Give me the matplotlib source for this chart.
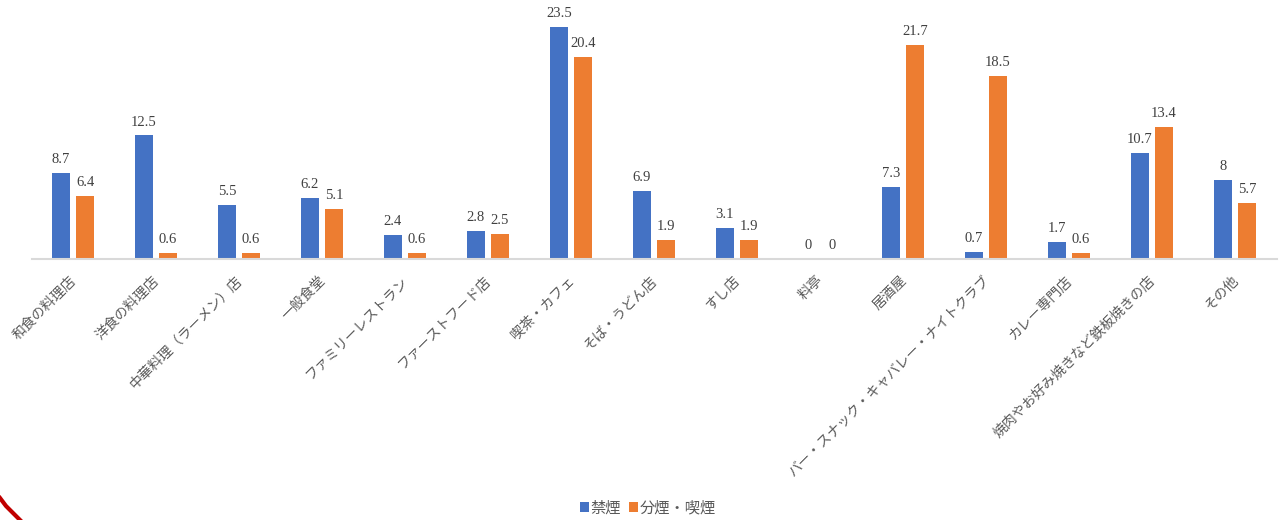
import matplotlib
matplotlib.use("Agg")
import matplotlib.pyplot as plt
import matplotlib.transforms as mtransforms
from matplotlib.lines import Line2D
import numpy as np

categories = ["和食の料理店", "洋食の料理店", "中華料理（ラーメン）店", "一般食堂", "ファミリーレストラン",
              "ファーストフード店", "喫茶・カフェ", "そば・うどん店", "すし店", "料亭", "居酒屋",
              "バー・スナック・キャバレー・ナイトクラブ", "カレー専門店", "焼肉やお好み焼きなど鉄板焼きの店", "その他"]
kinen = [8.7, 12.5, 5.5, 6.2, 2.4, 2.8, 23.5, 6.9, 3.1, 0, 7.3, 0.7, 1.7, 10.7, 8]
bunen = [6.4, 0.6, 0.6, 5.1, 0.6, 2.5, 20.4, 1.9, 1.9, 0, 21.7, 18.5, 0.6, 13.4, 5.7]
kinen_labels = ["8.7", "12.5", "5.5", "6.2", "2.4", "2.8", "23.5", "6.9", "3.1", "0", "7.3", "0.7", "1.7", "10.7", "8"]
bunen_labels = ["6.4", "0.6", "0.6", "5.1", "0.6", "2.5", "20.4", "1.9", "1.9", "0", "21.7", "18.5", "0.6", "13.4", "5.7"]
series_names = ["禁煙", "分煙・喫煙"]

plt.rcParams['font.family'] = ['Noto Sans CJK JP', 'DejaVu Sans']

fig = plt.figure(figsize=(12.8, 5.2), dpi=100)
ax = fig.add_axes([31.5 / 1280, 0.502, 1245 / 1280, 0.475])

n = len(categories)
x = np.arange(n)
w = 0.217
sep = 0.29
c1 = "#4472C4"
c2 = "#ED7D31"
b1 = ax.bar(x - sep / 2, kinen, width=w, color=c1, label=series_names[0])
b2 = ax.bar(x + sep / 2, bunen, width=w, color=c2, label=series_names[1])

for bars, labs in ((b1, kinen_labels), (b2, bunen_labels)):
    for r, t in zip(bars, labs):
        ax.annotate(t, (r.get_x() + r.get_width() / 2, r.get_height()),
                    xytext=(0, 5), textcoords="offset points", ha="center", va="bottom",
                    fontsize=10.5, color="#404040", family="Liberation Serif")

ax.set_xlim(-0.5, n - 0.5)
ax.set_ylim(0, 25)
ax.set_yticks([])
ax.set_xticks(x)
ax.set_xticklabels(categories, rotation=45, ha="right", rotation_mode="anchor",
                   fontsize=10, color="#595959")
ax.tick_params(axis="x", length=0, pad=6)
off = mtransforms.ScaledTranslation(-4 / 100, -6 / 100, fig.dpi_scale_trans)
for lab in ax.get_xticklabels():
    lab.set_transform(lab.get_transform() + off)
for s in ("top", "right", "left"):
    ax.spines[s].set_visible(False)
ax.spines["bottom"].set_color("#D9D9D9")
ax.spines["bottom"].set_linewidth(1.5)

leg = fig.legend(handles=[b1, b2], labels=series_names, loc="center",
                 bbox_to_anchor=(648 / 1280, 1 - 508 / 520),
                 ncol=2, frameon=False, fontsize=11, handlelength=0.6, handleheight=0.6,
                 handletextpad=0.1, columnspacing=0.5, labelcolor="#595959")

fig.add_artist(Line2D([0, 6 / 1280, 13 / 1280, 21 / 1280],
                      [1 - 498 / 520, 1 - 506 / 520, 1 - 513 / 520, 1 - 521 / 520],
                      transform=fig.transFigure, color="#C00000", lw=3))

fig.savefig("out.png", dpi=100)
